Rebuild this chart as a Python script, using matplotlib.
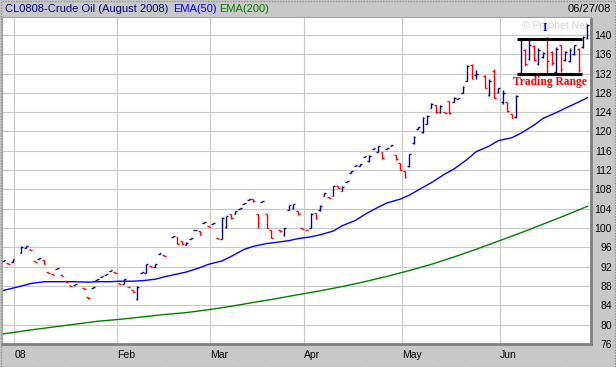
import numpy as np
import pandas as pd
import matplotlib
matplotlib.use("Agg")
import matplotlib.pyplot as plt
from matplotlib.patches import Rectangle

# ------------------------------------
# Data: CL0808 daily bars
# ------------------------------------

holidays = ['2008-01-01', '2008-01-21', '2008-02-18', '2008-03-21', '2008-05-26']
dates = [d for d in pd.bdate_range('2007-12-27', '2008-06-27')
         if d.strftime('%Y-%m-%d') not in holidays]

opens = [93.1, 92.8, 92.9,
         94.8, 95.8, 95.7, 93.1, 93.7, 93.4, 91.0, 90.5, 91.6, 90.2, 89.0, 88.2, 88.2,
         87.6, 85.8, 87.6, 89.3, 89.8, 90.3, 91.1, 91.0,
         88.6, 88.4, 87.9, 87.1, 85.3, 90.8, 90.8, 92.1, 92.0, 94.6, 94.4,
         98.1, 98.2, 97.4, 96.5, 97.7, 99.5, 99.4, 101.1, 100.5,
         100.9, 97.9, 97.8, 100.2, 102.9, 103.0, 104.0, 105.0, 105.9, 106.0,
         103.0, 105.5, 103.0, 99.6, 99.6, 98.5, 103.8, 104.1, 103.6, 100.1,
         99.7, 100.0, 103.2, 103.7, 106.7, 106.5, 106.7, 108.7, 107.7, 109.6, 111.5,
         112.9, 112.9, 114.7, 113.8, 116.3, 115.8, 115.7, 116.4, 116.9, 115.2, 113.4,
         111.9, 112.8, 117.6, 120.6, 119.8, 121.6, 124.9, 125.4, 124.0, 124.0, 126.3,
         126.2, 126.7, 128.0, 130.5, 133.8, 131.7, 131.5, 127.5, 132.6, 128.1,
         126.2, 126.0, 123.6, 123.0, 132.2, 136.8, 135.0, 137.6, 134.0, 135.4,
         139.4, 136.4, 132.4, 137.8, 134.8, 134.6, 136.0, 137.0, 137.5, 139.3]
highs = [93.3, 92.8, 93.6,
         96.2, 96.3, 95.7, 93.1, 93.9, 93.4, 91.0, 90.5, 91.8, 90.2, 89.0, 88.2, 88.4,
         87.6, 85.8, 87.8, 89.5, 90.0, 90.5, 91.3, 91.0,
         88.6, 89.5, 87.9, 87.1, 88.0, 91.0, 92.6, 92.1, 92.6, 94.8, 94.4,
         98.3, 98.2, 97.4, 97.1, 97.9, 99.7, 99.4, 101.3, 100.5,
         101.1, 97.9, 102.2, 102.6, 103.0, 103.6, 104.2, 105.2, 106.1, 106.0,
         103.0, 105.7, 103.0, 99.6, 99.6, 100.0, 104.8, 105.0, 103.6, 100.1,
         99.7, 103.1, 103.2, 104.7, 107.3, 106.5, 108.8, 108.7, 108.7, 109.8, 111.9,
         113.1, 113.2, 114.9, 115.1, 116.5, 117.0, 115.7, 116.6, 117.1, 115.2, 113.4,
         111.9, 115.4, 119.0, 121.0, 122.9, 123.4, 125.8, 125.4, 125.4, 124.0, 126.3,
         127.1, 126.9, 129.4, 133.7, 133.9, 132.7, 131.7, 130.8, 132.9, 129.0,
         128.5, 126.1, 123.7, 127.5, 139.1, 137.1, 139.0, 137.8, 137.2, 136.4,
         139.6, 136.6, 137.4, 138.0, 136.6, 137.2, 138.0, 137.2, 139.8, 142.3]
lows = [93.1, 92.6, 92.9,
        94.8, 95.8, 95.5, 92.9, 93.7, 92.5, 90.8, 90.3, 91.6, 90.0, 88.8, 88.0, 88.2,
        87.4, 85.4, 87.6, 89.3, 89.8, 90.3, 91.1, 90.8,
        88.4, 88.4, 87.7, 86.7, 85.1, 90.8, 90.6, 91.9, 92.0, 94.6, 94.2,
        98.1, 96.7, 96.6, 96.4, 97.7, 99.5, 98.5, 101.1, 100.3,
        100.9, 97.7, 97.8, 100.1, 101.9, 102.9, 104.0, 105.0, 105.9, 105.5,
        100.1, 105.5, 100.0, 97.9, 99.2, 98.4, 103.7, 104.0, 102.8, 99.9,
        99.5, 100.0, 101.9, 103.6, 106.6, 106.3, 106.6, 108.3, 107.6, 109.6, 111.5,
        112.9, 112.9, 114.7, 113.7, 116.3, 115.7, 114.4, 116.4, 116.9, 114.1, 112.0,
        110.4, 112.7, 117.5, 120.6, 119.7, 121.5, 124.8, 123.9, 123.9, 123.8, 123.7,
        126.1, 126.7, 127.9, 130.4, 130.8, 130.8, 128.9, 127.3, 126.9, 128.0,
        125.7, 124.0, 122.7, 122.8, 132.0, 133.6, 134.8, 134.6, 133.8, 135.3,
        132.2, 133.8, 132.1, 132.3, 134.6, 134.4, 135.8, 132.3, 137.3, 139.2]
closes = [93.3, 92.6, 93.5,
          96.1, 96.2, 95.5, 92.9, 93.9, 92.6, 90.8, 90.3, 91.8, 90.0, 88.8, 88.0, 88.4,
          87.4, 85.5, 87.8, 89.5, 90.0, 90.5, 91.3, 90.8,
          88.4, 89.4, 87.7, 86.8, 87.9, 91.0, 92.5, 91.9, 92.5, 94.8, 94.2,
          98.3, 96.8, 96.7, 97.0, 97.9, 99.7, 98.6, 101.3, 100.3,
          101.1, 97.7, 102.1, 102.5, 102.0, 103.5, 104.2, 105.2, 106.1, 105.6,
          101.2, 105.7, 100.1, 98.0, 99.3, 100.0, 104.7, 104.9, 102.9, 99.9,
          99.5, 103.0, 102.0, 104.6, 107.3, 106.3, 108.7, 108.4, 108.6, 109.8, 111.9,
          113.1, 113.2, 114.9, 115.0, 116.5, 117.0, 114.5, 116.6, 117.1, 114.2, 112.1,
          110.5, 115.3, 118.9, 120.9, 122.8, 123.3, 125.7, 124.0, 125.3, 123.8, 123.8,
          127.0, 126.9, 129.3, 133.6, 130.9, 132.0, 129.1, 130.5, 127.0, 128.9,
          128.0, 124.2, 122.8, 127.3, 138.9, 133.9, 138.0, 134.9, 136.8, 136.2,
          134.5, 134.2, 137.0, 133.0, 136.4, 136.9, 137.8, 132.8, 139.6, 142.0]

# EMA(50), read twice a week
ema50_dates = ['2007-12-27', '2008-01-02', '2008-01-04', '2008-01-09', '2008-01-11',
               '2008-01-16', '2008-01-18', '2008-01-23', '2008-01-25', '2008-01-30',
               '2008-02-01', '2008-02-06', '2008-02-08', '2008-02-13', '2008-02-15',
               '2008-02-20', '2008-02-22', '2008-02-27', '2008-02-29', '2008-03-05',
               '2008-03-07', '2008-03-12', '2008-03-14', '2008-03-19', '2008-03-20',
               '2008-03-26', '2008-03-28', '2008-04-02', '2008-04-04', '2008-04-09',
               '2008-04-11', '2008-04-16', '2008-04-18', '2008-04-23', '2008-04-25',
               '2008-04-30', '2008-05-02', '2008-05-07', '2008-05-09', '2008-05-14',
               '2008-05-16', '2008-05-21', '2008-05-23', '2008-05-28', '2008-05-30',
               '2008-06-04', '2008-06-06', '2008-06-11', '2008-06-13', '2008-06-18',
               '2008-06-20', '2008-06-25', '2008-06-27']
ema50 = [87.1, 88.0, 88.5, 88.9, 88.9,
         88.9, 88.9, 88.8, 88.9, 88.9,
         89.0, 89.0, 89.1, 89.4, 89.9,
         90.5, 90.9, 91.8, 92.5, 93.2,
         94.1, 95.6, 96.2, 96.8, 96.9,
         97.4, 97.8, 98.2, 98.6, 99.4,
         100.5, 101.6, 102.8, 104.3, 105.2,
         106.0, 106.8, 108.4, 109.4, 111.2,
         112.2, 114.2, 115.8, 117.0, 118.1,
         118.7, 119.6, 121.3, 122.7, 123.9,
         124.8, 126.1, 127.0]

# EMA(200), read once a week
ema200_dates = ['2007-12-27', '2008-01-04', '2008-01-11', '2008-01-18', '2008-01-25',
                '2008-02-01', '2008-02-08', '2008-02-15', '2008-02-22', '2008-02-29',
                '2008-03-07', '2008-03-14', '2008-03-20', '2008-03-28', '2008-04-04',
                '2008-04-11', '2008-04-18', '2008-04-25', '2008-05-02', '2008-05-09',
                '2008-05-16', '2008-05-23', '2008-05-30', '2008-06-06', '2008-06-13',
                '2008-06-20', '2008-06-27']
ema200 = [78.1, 78.9, 79.5, 80.1, 80.7, 81.1, 81.6, 82.1, 82.5, 83.1,
          83.8, 84.6, 85.2, 86.2, 87.0, 87.9, 88.9, 90.0, 91.2, 92.5,
          94.0, 95.6, 97.3, 99.0, 100.8, 102.6, 104.5]

month_starts = ['2008-01-01', '2008-02-01', '2008-03-03', '2008-04-01', '2008-05-01', '2008-06-02']
month_labels = ['08', 'Feb', 'Mar', 'Apr', 'May', 'Jun']

range_top = 139.2
range_bottom = 132.0

# ------------------------------------
# Positions: one slot per weekday
# ------------------------------------

start = '2007-12-27'
day_str = [d.strftime('%Y-%m-%d') for d in dates]
x = np.busday_count(start, day_str).astype(float)
x50 = np.busday_count(start, ema50_dates).astype(float)
x200 = np.busday_count(start, ema200_dates).astype(float)
mx = np.busday_count(start, month_starts).astype(float) - 0.6

o = np.array(opens); h = np.array(highs); l = np.array(lows); c = np.array(closes)
up = c >= o
colors = np.where(up, '#000080', '#ff0000')

# ------------------------------------
# Figure
# ------------------------------------

bg = '#c8c8c8'
plt.rcParams['font.family'] = ['Liberation Sans', 'DejaVu Sans']

fig = plt.figure(figsize=(6.16, 3.67), dpi=100, facecolor=bg)
ax = fig.add_axes([2 / 616, 1 - 344 / 367, 589 / 616, 327 / 367])
ax.set_facecolor('white')

ax.set_xlim(-0.36, 131.8)
ax.set_ylim(76.2, 143.7)

# grid
for v in range(76, 144, 4):
    ax.axhline(v, color='#c8c8c8', lw=0.8, zorder=0)
for m in mx:
    ax.axvline(m, color='#c8c8c8', lw=0.8, zorder=0)

# moving averages
ax.plot(x200, ema200, color='#008000', lw=1.0, zorder=2)
ax.plot(x50, ema50, color='#0000ff', lw=1.0, zorder=2)

# OHLC bars
t = 0.4
ax.vlines(x, l, h, colors=colors, lw=1.0, zorder=3)
ax.hlines(o, x - t, x, colors=colors, lw=1.0, zorder=3)
ax.hlines(c, x, x + t, colors=colors, lw=1.0, zorder=3)

# trading range box
d0 = np.busday_count(start, '2008-06-06') - 0.8
d1 = np.busday_count(start, '2008-06-25') + 0.8
ax.hlines([range_top, range_bottom], d0, d1, colors='black', lw=2.2, zorder=4)
ax.text((d0 + d1) / 2, range_bottom - 0.6, 'Trading Range', color='#ff0000',
        fontsize=8.3, fontweight='bold', family='Liberation Serif',
        ha='center', va='top', zorder=5)
ax.text(np.busday_count(start, '2008-06-16') - 0.6, 141.4, 'I', color='#0000ff',
        fontsize=8.5, fontweight='bold', family='Liberation Serif',
        ha='center', va='center', zorder=5)

# watermark (the "I" sits on top of it, as in the original)
ax.text(123.6, 141.9, '\u00a9 Prophet.Net', color='#d4d4d4', fontsize=7.5,
        ha='center', va='center', zorder=1)

# axes
ax.yaxis.tick_right()
ax.set_yticks(range(76, 144, 4))
ax.tick_params(axis='y', length=0, pad=15, labelsize=7.5)
for lab in ax.get_yticklabels():
    lab.set_horizontalalignment('right')
ax.set_xticks(mx)
ax.set_xticklabels(month_labels)
ax.tick_params(axis='x', length=0, pad=4, labelsize=7.5)
for lab in ax.get_xticklabels():
    lab.set_horizontalalignment('left')

for side in ['left', 'top']:
    ax.spines[side].set_color('#a0a0a0')
    ax.spines[side].set_linewidth(0.8)
for side in ['right', 'bottom']:
    ax.spines[side].set_color('#808080')
    ax.spines[side].set_linewidth(2.0)
    ax.spines[side].set_linestyle((0, (1, 1)))

# header
fig.text(5 / 616, 1 - 9 / 367, 'CL0808-Crude Oil (August 2008)', color='#000080',
         fontsize=8, va='center')
fig.text(173 / 616, 1 - 9 / 367, 'EMA(50)', color='#0000ff', fontsize=8, va='center')
fig.text(219 / 616, 1 - 9 / 367, 'EMA(200)', color='#008000', fontsize=8, va='center')
fig.text(611 / 616, 1 - 9 / 367, '06/27/08', color='black', fontsize=8,
         va='center', ha='right')

fig.patches.append(Rectangle((0.001, 0.001), 0.998, 0.997, transform=fig.transFigure,
                             fill=False, edgecolor='#909090', lw=1.0,
                             linestyle=(0, (1, 1))))

fig.savefig('out.png', dpi=100, facecolor=bg)
